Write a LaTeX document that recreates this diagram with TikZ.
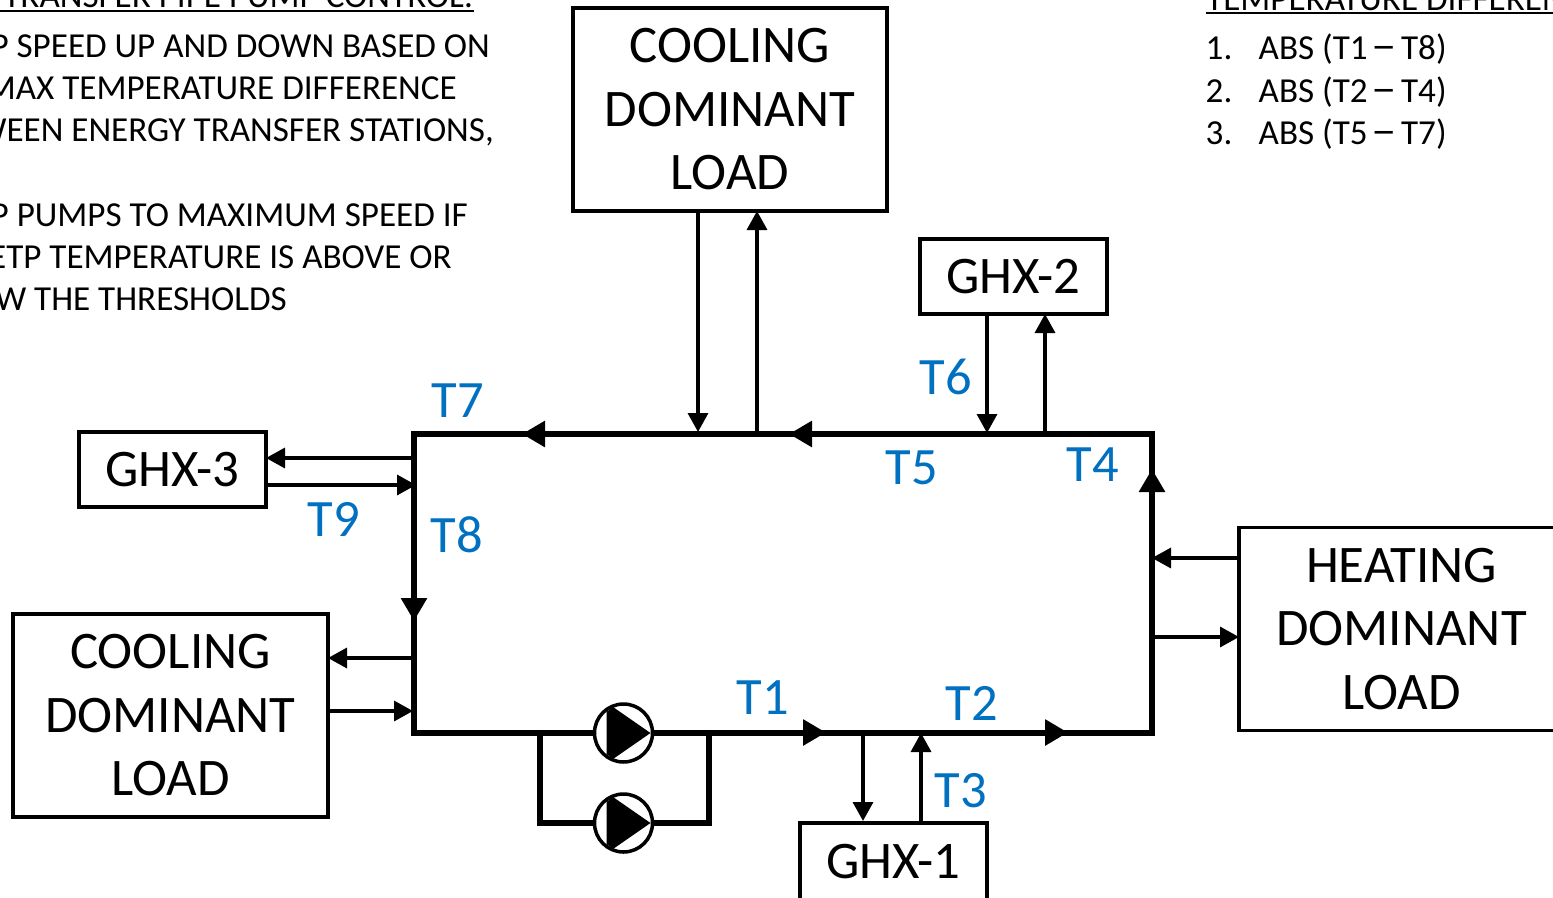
\documentclass[tikz,border=0pt]{standalone}
\usepackage{fontspec}
\setmainfont{Carlito}
\usetikzlibrary{arrows.meta,calc}
\definecolor{tblue}{HTML}{0070C0}
\newcommand{\widedash}{\makebox[0.5em][c]{\scalebox{1.45}[1.2]{–}}}
\tikzset{
  box/.style={draw=black,line width=3.5pt,fill=white,inner sep=0pt,outer sep=0pt,align=center,font=\fontsize{52.8}{63.5}\selectfont},
  ghx/.style={draw=black,line width=3.5pt,fill=white,inner sep=0pt,outer sep=0pt,align=center,minimum width=187pt,minimum height=75pt,font=\fontsize{52.8}{63.5}\selectfont},
  pipe/.style={line width=6pt,line cap=rect,black},
  pipetip/.style={line width=6pt,black,-{Triangle[length=23pt,width=25pt]}},
  thin/.style={line width=3.4pt,black,-{Triangle[length=19pt,width=20pt]}},
  templabel/.style={text=tblue,inner sep=0pt,font=\fontsize{52.5}{63}\selectfont},
  note/.style={inner sep=0pt,font=\fontsize{35.1}{42}\selectfont},
  pumpc/.style={draw=black,line width=3.5pt,fill=white,circle,minimum size=58pt,inner sep=0pt},
  heading/.style={line width=2.5pt,black}
}
\begin{document}
\begin{tikzpicture}[x=1pt,y=-1pt]
\clip (0,0) rectangle (1553,897);
\fill[white] (0,0) rectangle (1553,897);
% loop corners and mid-line arrow tips
\coordinate (TL) at (414,434);
\coordinate (TR) at (1152,434);
\coordinate (BL) at (414,732.5);
\coordinate (BR) at (1152,732.5);
\coordinate (a1) at (789,434);
\coordinate (a2) at (522,434);
\coordinate (a3) at (414,621);
\coordinate (a4) at (826,732.5);
\coordinate (a5) at (1068,732.5);
\coordinate (a6) at (1152,469);
% boxes
\node[box,minimum width=314pt,minimum height=203pt] (cooltop) at (730,109.5) {COOLING\\DOMINANT\\LOAD};
\node[box,minimum width=315pt,minimum height=203pt] (coolleft) at (170.5,715.5) {COOLING\\DOMINANT\\LOAD};
\node[box,minimum width=325pt,minimum height=203pt] (heat) at (1401.5,629) {HEATING\\DOMINANT\\LOAD};
\node[ghx] (g2) at (1013.5,276.5) {GHX-2};
\node[ghx] (g3) at (172.5,469.5) {GHX-3};
\node[ghx,minimum height=80pt] (g1) at (893.5,863) {\raisebox{3pt}{GHX-1}};
% thick loop
\draw[pipe] (TR) -- (TL) -- (BL) -- (BR) -- cycle;
\draw[pipetip] (TR) -- (a1);
\draw[pipetip] (a1) -- (a2);
\draw[pipetip] (TL) -- (a3);
\draw[pipetip] (BL) -- (a4);
\draw[pipetip] (a4) -- (a5);
\draw[pipetip] (BR) -- (a6);
% pumps
\coordinate (by1) at (540,732);
\coordinate (by2) at (709,732);
\coordinate (by3) at (540,823);
\coordinate (by4) at (709,823);
\draw[pipe,line cap=butt] ($(by1)+(0,-2.5)$) -- ($(by3)+(0,3)$);
\draw[pipe,line cap=butt] ($(by2)+(0,-2.5)$) -- ($(by4)+(0,3)$);
\draw[pipe,line cap=butt] (by3) -- (by4);
\node[pumpc] (p1) at (623.5,733) {};
\node[pumpc] (p2) at (623.5,823) {};
\fill[black] ($(p1)+(-17,-21)$) -- ($(p1)+(-10.5,-26)$) -- ($(p1)+(27,0)$) -- ($(p1)+(-10.5,26)$) -- ($(p1)+(-17,21)$) -- cycle;
\fill[black] ($(p2)+(-17,-21)$) -- ($(p2)+(-10.5,-26)$) -- ($(p2)+(27,0)$) -- ($(p2)+(-10.5,26)$) -- ($(p2)+(-17,21)$) -- cycle;
% branch connectors
\coordinate (c1) at (698,432);
\coordinate (c2) at (757,433);
\coordinate (c3) at (987,433);
\coordinate (c4) at (1045,434);
\coordinate (c5) at (414,458);
\coordinate (c6) at (416,485);
\coordinate (c7) at (414,658);
\coordinate (c8) at (413,711);
\coordinate (c9) at (1152,558);
\coordinate (c10) at (1152,637);
\coordinate (c11) at (863,732);
\coordinate (c12) at (921,733);
\draw[thin] (cooltop.south -| c1) -- (c1);
\draw[thin] (c2) -- (cooltop.south -| c2);
\draw[thin] (g2.south -| c3) -- (c3);
\draw[thin] (c4) -- (g2.south -| c4);
\draw[thin] (c5) -- (g3.east |- c5);
\draw[thin] (g3.east |- c6) -- (c6);
\draw[thin] (c7) -- (coolleft.east |- c7);
\draw[thin] (coolleft.east |- c8) -- (c8);
\draw[thin] (heat.west |- c9) -- (c9);
\draw[thin] (c10) -- (heat.west |- c10);
\draw[thin] (c11) -- ($(g1.north -| c11)+(0,-2)$);
\draw[thin] (g1.north -| c12) -- (c12);
% temperature labels
\node[templabel] (t7) at (458,401) {T7};
\node[templabel] (t6) at (946,377) {T6};
\node[templabel] (t5) at (912,468) {T5};
\node[templabel] (t4) at (1093,465) {T4};
\node[templabel] (t9) at (334,519) {T9};
\node[templabel] (t8) at (457,535) {T8};
\node[templabel] (t1) at (763,698) {T1};
\node[templabel] (t2) at (972,703) {T2};
\node[templabel] (t3) at (961,791) {T3};
% left notes
\node[note,anchor=base east] (h1) at (473.5,7) {TRANSFER PIPE PUMP CONTROL:};
\draw[heading] (0,11) -- (473.5,11);
\node[note,anchor=base east] (n1) at (490,57) {P SPEED UP AND DOWN BASED ON};
\node[note,anchor=base east] (n2) at (457,99) {MAX TEMPERATURE DIFFERENCE};
\node[note,anchor=base east] (n3) at (494,141) {WEEN ENERGY TRANSFER STATIONS,};
\node[note,anchor=base east] (n4) at (468,226) {P PUMPS TO MAXIMUM SPEED IF};
\node[note,anchor=base east] (n5) at (452,268) {ETP TEMPERATURE IS ABOVE OR};
\node[note,anchor=base east] (n6) at (287,310) {W THE THRESHOLDS};
% right notes
\node[note,anchor=base west] (h2) at (1206,10) {TEMPERATURE DIFFERENCES};
\draw[heading] (1206,13) -- (1553,13);
\node[note,anchor=base west] (r1) at (1205.5,59) {1.};
\node[note,anchor=base west] (r2) at (1205.5,102) {2.};
\node[note,anchor=base west] (r3) at (1205.5,144) {3.};
\node[note,anchor=base west] (r1b) at (1258.5,59) {ABS (T1 \widedash{} T8)};
\node[note,anchor=base west] (r2b) at (1258.5,102) {ABS (T2 \widedash{} T4)};
\node[note,anchor=base west] (r3b) at (1258.5,144) {ABS (T5 \widedash{} T7)};
\end{tikzpicture}
\end{document}
